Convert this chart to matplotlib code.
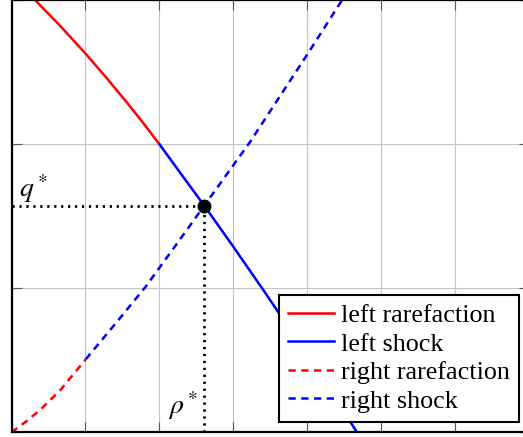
import matplotlib
matplotlib.use("Agg")
import matplotlib.pyplot as plt

plt.rcParams['font.family'] = ['Liberation Serif', 'DejaVu Serif']
plt.rcParams['mathtext.fontset'] = 'stix'

# left state curves
left_raref_rho = [0.30, 0.655, 0.997, 1.286, 1.557, 1.781, 2.0]
left_raref_q = [3.012, 2.824, 2.632, 2.460, 2.292, 2.147, 2.0]
left_shock_rho = [2.0, 2.297, 2.605, 2.997, 3.403, 4.034, 4.669]
left_shock_q = [2.0, 1.790, 1.574, 1.289, 0.988, 0.509, 0.0]

# right state curves
right_raref_rho = [0.0, 0.205, 0.385, 0.655, 1.003]
right_raref_q = [0.0, 0.078, 0.155, 0.290, 0.507]
right_shock_rho = [1.003, 1.399, 1.814, 2.209, 2.605, 3.223, 3.997, 4.466]
right_shock_q = [0.507, 0.751, 1.012, 1.291, 1.574, 2.016, 2.624, 3.001]

rho_star = 2.605
q_star = 1.574

fig = plt.figure(figsize=(5.23, 4.37), dpi=100)
ax = fig.add_axes([11.5 / 523, 4.7 / 437, 518 / 523, 432 / 437])

lw = 1.8
dash = (0, (2.9, 2.2))
ax.plot(left_raref_rho, left_raref_q, color='red', lw=lw, label='left rarefaction')
ax.plot(left_shock_rho, left_shock_q, color='blue', lw=lw, label='left shock')
ax.plot(right_raref_rho, right_raref_q, color='red', lw=lw, linestyle=dash, label='right rarefaction')
ax.plot(right_shock_rho, right_shock_q, color='blue', lw=lw, linestyle=dash, label='right shock')

# dotted guides to the intermediate state
dots = (0, (0.8, 1.7))
ax.plot([0, rho_star], [q_star, q_star], color='black', lw=2.0, linestyle=dots, zorder=1.5)
ax.plot([rho_star, rho_star], [0, q_star], color='black', lw=2.0, linestyle=dots, zorder=1.5)
ax.plot([rho_star], [q_star], 'o', color='black', markersize=9, zorder=5)

ax.text(0.1, 1.635, r'$q^*$', fontsize=20, ha='left', va='baseline')
ax.text(2.115, 0.13, r'$\rho^*$', fontsize=20, ha='left', va='baseline')

ax.set_xlim(0, 7)
ax.set_ylim(0, 3)
ax.set_xticks(range(8))
ax.set_yticks(range(4))
ax.tick_params(direction='in', length=7, width=0.8, color='#555555',
               top=True, right=True, labelbottom=False, labelleft=False)
ax.grid(True, color='#c4c4c4', lw=0.8)
ax.set_axisbelow(True)
for s in ax.spines.values():
    s.set_linewidth(1.6)

leg = ax.legend(loc='lower right', bbox_to_anchor=(0.980, 0.0245), borderaxespad=0,
                fontsize=18.8, handlelength=1.75, handletextpad=0.27, borderpad=0.35,
                labelspacing=0.2, fancybox=False, framealpha=1, edgecolor='black')
leg.get_frame().set_linewidth(1.5)

fig.savefig('out.png', dpi=100)
